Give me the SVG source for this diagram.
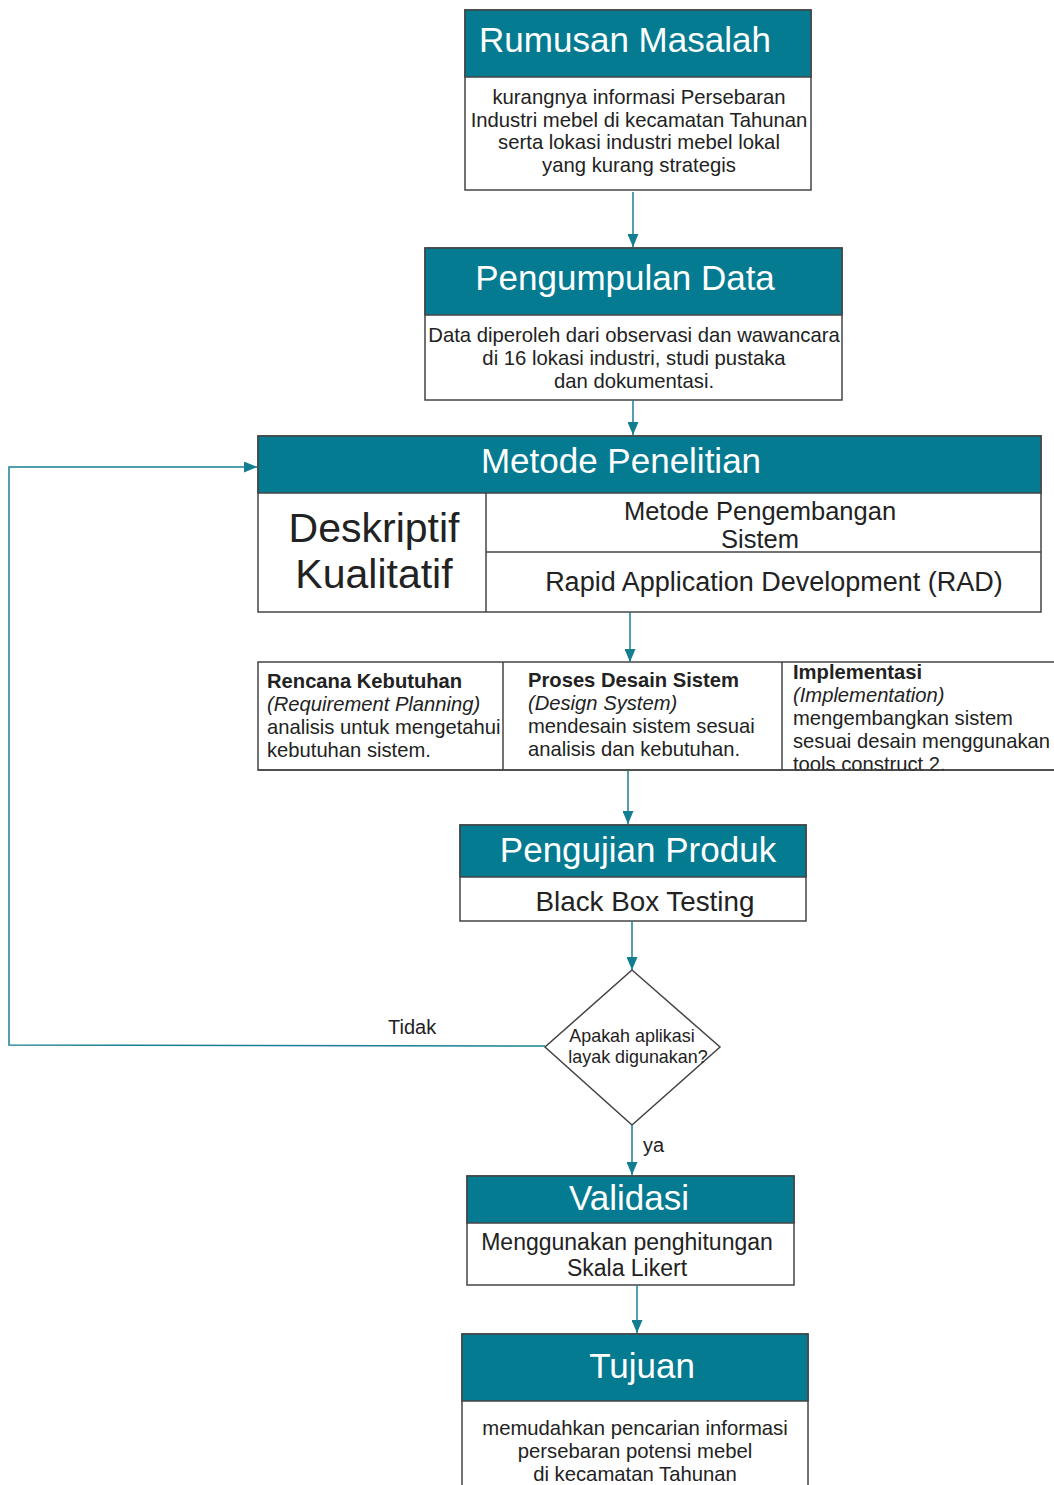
<svg xmlns="http://www.w3.org/2000/svg" width="1054" height="1485" viewBox="0 0 1054 1485">
<style>
.box{fill:#fff;stroke:#444;stroke-width:1.5}
.hdr{fill:#047b91;stroke:#444;stroke-width:1.5}
.ttl{font-family:"Liberation Sans",Arial,sans-serif;font-size:35px;fill:#fff;text-anchor:middle}
.body{font-family:"Liberation Sans",Arial,sans-serif;font-size:20.3px;fill:#222;text-anchor:middle}
.cell{font-family:"Liberation Sans",Arial,sans-serif;font-size:20.2px;fill:#222}
.b{font-weight:bold}
.i{font-style:italic}
.div{stroke:#444;stroke-width:1.5;fill:none}
.con{stroke:#1a7f93;stroke-width:1.5;fill:none}
.lbl{font-family:"Liberation Sans",Arial,sans-serif;font-size:20px;fill:#222}
</style>
<defs>
<marker id="ah" viewBox="0 0 13 11" refX="13" refY="5.5" markerWidth="13" markerHeight="11" markerUnits="userSpaceOnUse" orient="auto">
<path d="M0,0 L13,5.5 L0,11 z" fill="#137d91"/>
</marker>
</defs>
<rect width="1054" height="1485" fill="#fff"/>

<g id="rumusan">
<rect class="box" x="465" y="10" width="346" height="180"/>
<rect class="hdr" x="465" y="10" width="346" height="67"/>
<text class="ttl" x="625" y="52">Rumusan Masalah</text>
<text class="body" x="639" y="104">kurangnya informasi Persebaran</text>
<text class="body" x="639" y="127">Industri mebel di kecamatan Tahunan</text>
<text class="body" x="639" y="149">serta lokasi industri mebel lokal</text>
<text class="body" x="639" y="172">yang kurang strategis</text>
</g>

<g id="pengumpulan">
<rect class="box" x="425" y="248" width="417" height="152"/>
<rect class="hdr" x="425" y="248" width="417" height="67"/>
<text class="ttl" x="625" y="290">Pengumpulan Data</text>
<text class="body" x="634" y="342">Data diperoleh dari observasi dan wawancara</text>
<text class="body" x="634" y="365">di 16 lokasi industri, studi pustaka</text>
<text class="body" x="634" y="388">dan dokumentasi.</text>
</g>

<g id="metode">
<rect class="box" x="258" y="436" width="783" height="176"/>
<rect class="hdr" x="258" y="436" width="783" height="57"/>
<text class="ttl" x="621" y="473">Metode Penelitian</text>
<line class="div" x1="486" y1="493" x2="486" y2="612"/>
<line class="div" x1="486" y1="552" x2="1041" y2="552"/>
<text class="body" x="374" y="542" style="font-size:41px">Deskriptif</text>
<text class="body" x="374" y="588" style="font-size:41px">Kualitatif</text>
<text class="body" x="760" y="520" style="font-size:25.5px">Metode Pengembangan</text>
<text class="body" x="760" y="548" style="font-size:25.5px">Sistem</text>
<text class="body" x="774" y="591" style="font-size:27px">Rapid Application Development (RAD)</text>
</g>

<g id="rad">
<rect class="box" x="258" y="662" width="810" height="108"/>
<line class="div" x1="503" y1="662" x2="503" y2="770"/>
<line class="div" x1="782" y1="662" x2="782" y2="770"/>
<text class="cell b" x="267" y="688">Rencana Kebutuhan</text>
<text class="cell i" x="267" y="711">(Requirement Planning)</text>
<text class="cell" x="267" y="734">analisis untuk mengetahui</text>
<text class="cell" x="267" y="757">kebutuhan sistem.</text>
<text class="cell b" x="528" y="687">Proses Desain Sistem</text>
<text class="cell i" x="528" y="710">(Design System)</text>
<text class="cell" x="528" y="733">mendesain sistem sesuai</text>
<text class="cell" x="528" y="756">analisis dan kebutuhan.</text>
<text class="cell b" x="793" y="679">Implementasi</text>
<text class="cell i" x="793" y="702">(Implementation)</text>
<text class="cell" x="793" y="725">mengembangkan sistem</text>
<text class="cell" x="793" y="748">sesuai desain menggunakan</text>
<text class="cell" x="793" y="771">tools construct 2.</text>
<rect x="258" y="771" width="800" height="12" fill="#fff"/>
<line class="div" x1="258" y1="770" x2="1054" y2="770"/>
</g>

<g id="pengujian">
<rect class="box" x="460" y="825" width="346" height="96"/>
<rect class="hdr" x="460" y="825" width="346" height="52"/>
<text class="ttl" x="638" y="862">Pengujian Produk</text>
<text class="body" x="645" y="911" style="font-size:27.8px">Black Box Testing</text>
</g>

<g id="keputusan">
<polygon class="box" points="632,970 720,1047 632,1125 545,1047"/>
<text class="body" x="632" y="1042" style="font-size:17.9px">Apakah aplikasi</text>
<text class="body" x="638" y="1063" style="font-size:17.9px">layak digunakan?</text>
</g>

<g id="validasi">
<rect class="box" x="467" y="1176" width="327" height="109"/>
<rect class="hdr" x="467" y="1176" width="327" height="47"/>
<text class="ttl" x="629" y="1210">Validasi</text>
<text class="body" x="627" y="1250" style="font-size:23px">Menggunakan penghitungan</text>
<text class="body" x="627" y="1276" style="font-size:23px">Skala Likert</text>
</g>

<g id="tujuan">
<rect class="box" x="462" y="1334" width="346" height="160"/>
<rect class="hdr" x="462" y="1334" width="346" height="67"/>
<text class="ttl" x="642" y="1378">Tujuan</text>
<text class="body" x="635" y="1435">memudahkan pencarian informasi</text>
<text class="body" x="635" y="1458">persebaran potensi mebel</text>
<text class="body" x="635" y="1481">di kecamatan Tahunan</text>
</g>

<g id="connectors">
<line class="con" x1="633" y1="192" x2="633" y2="247" marker-end="url(#ah)"/>
<line class="con" x1="633" y1="400" x2="633" y2="435" marker-end="url(#ah)"/>
<line class="con" x1="630" y1="612" x2="630" y2="662" marker-end="url(#ah)"/>
<line class="con" x1="628" y1="771" x2="628" y2="824" marker-end="url(#ah)"/>
<line class="con" x1="632" y1="921" x2="632" y2="970" marker-end="url(#ah)"/>
<polyline class="con" points="545,1046 9,1045 9,467 257,467" marker-end="url(#ah)"/>
<text class="lbl" x="388" y="1034">Tidak</text>
<line class="con" x1="632" y1="1125" x2="632" y2="1175" marker-end="url(#ah)"/>
<text class="lbl" x="643" y="1152">ya</text>
<line class="con" x1="637" y1="1285" x2="637" y2="1333" marker-end="url(#ah)"/>
</g>
</svg>
